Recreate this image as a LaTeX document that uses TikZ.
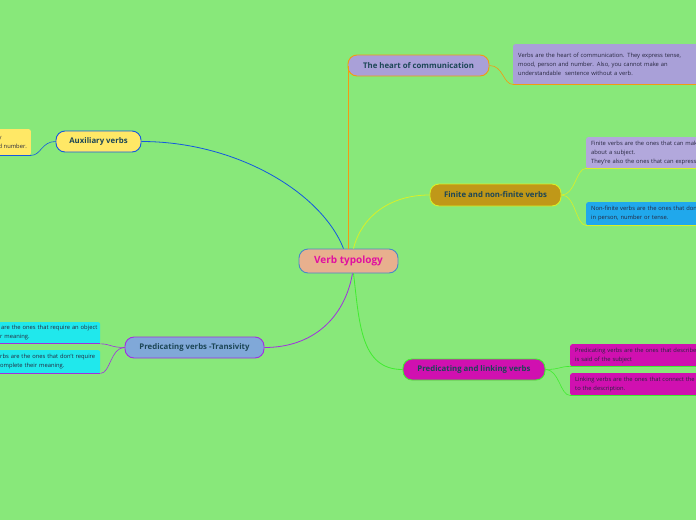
\documentclass[tikz,border=0pt]{standalone}
\usepackage{fontspec}
\setmainfont{Open Sans}
\usetikzlibrary{positioning,calc}
\definecolor{MapBack}{HTML}{88E87A}
\definecolor{CoreFill}{HTML}{E8B08E}
\definecolor{CoreLine}{HTML}{4A88C8}
\definecolor{CoreInk}{HTML}{E010A0}
\definecolor{TopicInk}{HTML}{1C4656}
\definecolor{NoteInk}{HTML}{26263E}
\definecolor{HeartFill}{HTML}{A9A0D8}
\definecolor{HeartLine}{HTML}{F39A12}
\definecolor{AuxFill}{HTML}{FFE866}
\definecolor{AuxLine}{HTML}{1458E0}
\definecolor{FinFill}{HTML}{C09818}
\definecolor{FinLine}{HTML}{D8F028}
\definecolor{FinNote}{HTML}{B2A8DC}
\definecolor{NonFinNote}{HTML}{20A8EC}
\definecolor{TransFill}{HTML}{80A8D8}
\definecolor{TransLine}{HTML}{A030E0}
\definecolor{TransNote}{HTML}{20E8EC}
\definecolor{LinkFill}{HTML}{D010B0}
\definecolor{LinkLine}{HTML}{40EC30}

\begin{document}
\begin{tikzpicture}[
    x=1pt,y=-1pt,
    topic/.style={
      fill=#1,
      line width=0.9pt,
      minimum height=21pt,
      rounded corners=9pt,
      text=TopicInk,
      font=\fontsize{7.8}{9}\selectfont\bfseries
    },
    note/.style={
      fill=#1,
      anchor=north west,
      align=left,
      rounded corners=2pt,
      inner xsep=5pt,
      text=NoteInk,
      font=\fontsize{5.8}{9}\selectfont
    },
    branch/.style={draw=#1, line width=0.8pt}
  ]

  % Canvas
  \useasboundingbox (0,0) rectangle (696,520);
  \clip (0,0) rectangle (696,520);
  \fill[MapBack] (0,0) rectangle (696,520);

  % Central topic and main topics
  \node[topic=CoreFill, draw=CoreLine, minimum width=99pt, minimum height=24pt,
        text=CoreInk, font=\fontsize{10}{12}\selectfont\bfseries]
    (vt)    at (348.5,261)  {Verb typology};
  \node[topic=HeartFill, draw=HeartLine, minimum width=141pt]
    (heart) at (418.5,65.5) {The heart of communication};
  \node[topic=AuxFill,   draw=AuxLine,   minimum width=85pt]
    (aux)   at (98.5,141.5) {Auxiliary verbs};
  \node[topic=FinFill,   draw=FinLine,   minimum width=131pt, minimum height=22pt]
    (fin)   at (495.5,195)  {Finite and non-finite verbs};
  \node[topic=TransFill, draw=TransLine, minimum width=139pt]
    (trans) at (194.5,347.5) {Predicating verbs -Transivity};
  \node[topic=LinkFill,  draw=LinkLine,  minimum width=142pt]
    (plink) at (474,369.5)  {Predicating and linking verbs};

  % Notes
  \node[note=HeartFill, text width=180pt, minimum height=40pt] (heartnote) at (513,44)
    {Verbs are the heart of communication. They express tense,\\
     mood, person and number. Also, you cannot make an\\
     understandable\ \ sentence without a verb.};
  \node[note=AuxFill, minimum width=36pt, minimum height=26pt, inner xsep=0pt,
        anchor=north east] (auxnote) at (31,129)
    {y\\d number.\hspace{2pt}};
  \node[note=FinNote, text width=140pt, minimum height=31pt] (finnote) at (586,137)
    {Finite verbs are the ones that can make\\
     about a subject.\\
     They're also the ones that can express};
  \node[note=NonFinNote, text width=140pt, minimum height=23pt] (nonfinnote) at (586,202)
    {Non-finite verbs are the ones that don't\\
     in person, number or tense.};
  \node[note=TransNote, text width=118pt, inner xsep=1pt, minimum height=21pt,
        anchor=north west] (transnote) at (-20,322)
    {\hspace*{20pt}are the ones that require an object\\\hspace*{19pt}r meaning.};
  \node[note=TransNote, text width=118pt, inner xsep=1pt, minimum height=23pt,
        anchor=north west] (intrnote) at (-20,350)
    {\hspace*{19pt}rbs are the ones that don't require\\\hspace*{19pt}omplete their meaning.};
  \node[note=LinkFill, text width=150pt, minimum height=22pt] (prednote) at (570,344)
    {Predicating verbs are the ones that describe\\is said of the subject};
  \node[note=LinkFill, text width=150pt, minimum height=22pt] (linknote) at (570,373)
    {Linking verbs are the ones that connect the s\\to the description.};

  % Note underlines
  \draw[HeartLine, line width=1.4pt] (heartnote.south west) -- (heartnote.south east);
  \draw[AuxLine,   line width=1.2pt] (auxnote.south west) -- (auxnote.south east);
  \draw[FinLine,   line width=1.2pt] (finnote.south west) -- (finnote.south east);
  \draw[FinLine,   line width=1.2pt] (nonfinnote.south west) -- (nonfinnote.south east);
  \draw[TransLine, line width=1.2pt] (transnote.south west) -- (transnote.south east);
  \draw[TransLine, line width=1.2pt] (intrnote.south west) -- (intrnote.south east);
  \draw[LinkLine,  line width=1.2pt] (prednote.south west) -- (prednote.south east);
  \draw[LinkLine,  line width=1.2pt] (linknote.south west) -- (linknote.south east);

  % Branches from the centre
  \draw[branch=HeartLine, line width=1.1pt] (vt.north) -- (vt.north |- heart.west);
  \draw[branch=AuxLine] ([xshift=-5pt]vt.north)
    .. controls +(-22,-56) and +(95,0) .. (aux.east);
  \draw[branch=FinLine] ([xshift=5pt]vt.north)
    .. controls +(8,-32) and +(-40,0) .. (fin.west);
  \draw[branch=TransLine] ([xshift=4pt]vt.south)
    .. controls +(-8,45) and +(48,0) .. (trans.east);
  \draw[branch=LinkLine] ([xshift=5pt]vt.south)
    .. controls +(6,50) and +(-42,0) .. (plink.west);

  % Branches to the notes
  \draw[branch=HeartLine, line width=0.6pt] (heart.east)
    .. controls +(14,0) and +(-10,0) .. (heartnote.south west);
  \draw[branch=AuxLine, line width=0.6pt] (aux.west)
    .. controls +(-14,0) and +(10,0) .. (auxnote.south east);
  \draw[branch=FinLine, line width=0.6pt] (fin.east)
    .. controls +(14,0) and +(-10,0) .. (finnote.south west);
  \draw[branch=FinLine, line width=0.6pt] (fin.east)
    .. controls +(14,0) and +(-10,0) .. (nonfinnote.south west);
  \draw[branch=TransLine, line width=0.6pt] (trans.west)
    .. controls +(-14,0) and +(10,0) .. (transnote.south east);
  \draw[branch=TransLine, line width=0.6pt] (trans.west)
    .. controls +(-14,0) and +(10,0) .. (intrnote.south east);
  \draw[branch=LinkLine, line width=0.6pt] (plink.east)
    .. controls +(14,0) and +(-10,0) .. (prednote.south west);
  \draw[branch=LinkLine, line width=0.6pt] (plink.east)
    .. controls +(14,0) and +(-10,0) .. (linknote.south west);

\end{tikzpicture}
\end{document}
